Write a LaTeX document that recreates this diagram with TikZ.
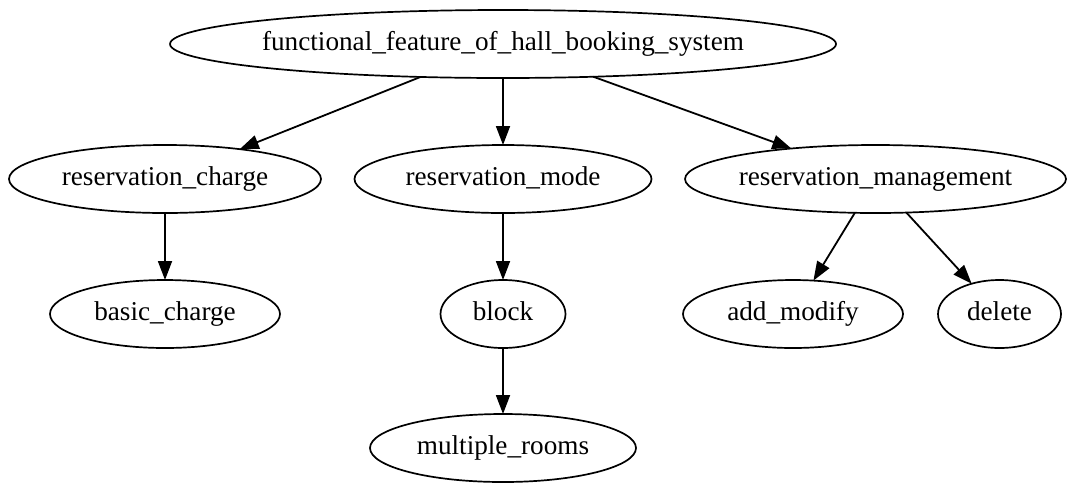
\documentclass[tikz,border=0pt]{standalone}
\usepackage{fontspec}
\setmainfont{Liberation Serif}
\usetikzlibrary{shapes.geometric,arrows.meta}
\begin{document}
\begin{tikzpicture}[x=0.5pt,y=-0.5pt,
  gnode/.style={draw, ellipse, line width=0.85pt, inner xsep=-10pt, inner ysep=0pt, outer sep=0pt,
    minimum height=34pt, text height=9.5pt, text depth=3pt,
    font=\fontsize{13.6}{15}\selectfont},
  gedge/.style={draw, line width=0.9pt, -{Triangle[length=9.5pt,width=7pt]}}]
\useasboundingbox (0,0) rectangle (1068,483);
\node[gnode, minimum width=333pt] (top) at (503,44) {functional\_feature\_of\_hall\_booking\_system};
\node[gnode, minimum width=156pt] (charge) at (165,179) {reservation\_charge};
\node[gnode, minimum width=148.5pt] (mode) at (503,179) {reservation\_mode};
\node[gnode, minimum width=190.5pt] (mgmt) at (875.5,179) {reservation\_management};
\node[gnode, minimum width=115pt] (basic) at (165,314) {basic\_charge};
\node[gnode, minimum width=62.5pt] (block) at (503,314) {block};
\node[gnode, minimum width=110pt] (addmod) at (793,314) {add\_modify};
\node[gnode, minimum width=61.5pt] (delete) at (999.5,314) {delete};
\node[gnode, minimum width=133pt] (multi) at (503,448) {multiple\_rooms};
\draw[gedge] (top) -- (charge);
\draw[gedge] (top) -- (mode);
\draw[gedge] (top) -- (mgmt);
\draw[gedge] (charge) -- (basic);
\draw[gedge] (mode) -- (block);
\draw[gedge] (block) -- (multi);
\draw[gedge] (mgmt) -- (addmod);
\draw[gedge] (mgmt) -- (delete);
\end{tikzpicture}
\end{document}
